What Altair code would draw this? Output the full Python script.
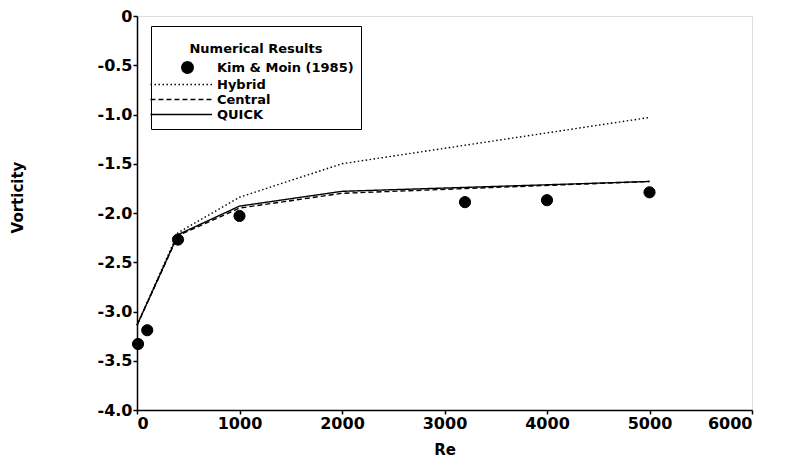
import altair as alt
import pandas as pd

# ---- data ----
series_names = ["Kim & Moin (1985)", "Hybrid", "Central", "QUICK"]

kim_re = [10, 100, 400, 1000, 3200, 4000, 5000]
kim_vort = [-3.33, -3.19, -2.27, -2.03, -1.89, -1.87, -1.79]

line_re = [0, 400, 1000, 2000, 5000]
hybrid_vort = [-3.14, -2.20, -1.84, -1.50, -1.03]
central_vort = [-3.14, -2.23, -1.95, -1.80, -1.68]
quick_vort = [-3.14, -2.22, -1.93, -1.78, -1.68]

x_ticks = [0, 1000, 2000, 3000, 4000, 5000, 6000]
y_ticks = [-4.0, -3.5, -3.0, -2.5, -2.0, -1.5, -1.0, -0.5, 0.0]

# ---- tables ----
pts = pd.DataFrame({"Re": kim_re, "Vorticity": kim_vort, "series": series_names[0]})
rows = []
for name, vals in [("Hybrid", hybrid_vort), ("Central", central_vort), ("QUICK", quick_vort)]:
    for r, v in zip(line_re, vals):
        rows.append({"Re": r, "Vorticity": v, "series": name})
lines = pd.DataFrame(rows)

FONT = "DejaVu Sans"
line_path = "M-6.5,0H4.3"

legend = alt.Legend(
    title=["", "Numerical Results"],
    orient="none",
    legendX=14,
    legendY=10,
    padding=7,
    strokeColor="black",
    titleFont=FONT,
    titleFontSize=13,
    titleFontWeight="bold",
    titleColor="black",
    titleAnchor="middle",
    titleLineHeight=10,
    titlePadding=5,
    labelFont=FONT,
    labelFontSize=13,
    labelFontWeight="bold",
    labelColor="black",
    symbolSize=130,
    symbolOffset=23,
    labelOffset=23,
    symbolStrokeWidth=1.4,
    symbolOpacity=1,
    rowPadding=1,
)

domain_scale = dict(domain=series_names)

x_enc = alt.X(
    "Re:Q",
    scale=alt.Scale(domain=[0, 6000], nice=False),
    axis=alt.Axis(
        title="Re", values=x_ticks, format="d", grid=False,
        labelFont=FONT, labelFontSize=16, labelFontWeight="bold", labelColor="black",
        labelPadding=1, tickSize=4, tickColor="black", tickWidth=1.5,
        domainColor="black", domainWidth=1.5,
        titleFont=FONT, titleFontSize=15, titleFontWeight="bold", titleColor="black",
        titlePadding=11,
    ),
)
y_enc = alt.Y(
    "Vorticity:Q",
    scale=alt.Scale(domain=[-4, 0], nice=False),
    axis=alt.Axis(
        title="Vorticity", values=y_ticks, grid=False,
        labelExpr="datum.value == 0 ? '0' : (datum.value < 0 ? '-' : '') + format(abs(datum.value), '.1f')",
        labelFont=FONT, labelFontSize=16, labelFontWeight="bold", labelColor="black",
        labelPadding=1, tickSize=4, tickColor="black", tickWidth=1.5,
        domainColor="black", domainWidth=1.5,
        titleFont=FONT, titleFontSize=15, titleFontWeight="bold", titleColor="black",
        titleX=-120, titleY=181, titleBaseline="middle", titleAlign="center", titleAngle=270,
    ),
)

line_layer = alt.Chart(lines).mark_line(color="black", strokeWidth=1.4).encode(
    x=x_enc,
    y=y_enc,
    strokeDash=alt.StrokeDash(
        "series:N",
        scale=alt.Scale(range=[[1, 0], [1.5, 2.5], [5, 3], [1, 0]], **domain_scale),
        legend=legend,
    ),
    order="Re:Q",
)

point_layer = alt.Chart(pts).mark_point(filled=True, size=125, opacity=1, strokeWidth=1).encode(
    x=x_enc,
    y=y_enc,
    shape=alt.Shape(
        "series:N",
        scale=alt.Scale(range=["circle", line_path, line_path, line_path], **domain_scale),
        legend=legend,
    ),
    fill=alt.Fill(
        "series:N",
        scale=alt.Scale(range=["black", "transparent", "transparent", "transparent"], **domain_scale),
        legend=legend,
    ),
    stroke=alt.Stroke(
        "series:N",
        scale=alt.Scale(range=["black", "black", "black", "black"], **domain_scale),
        legend=legend,
    ),
)

chart = (
    alt.layer(line_layer, point_layer)
    .properties(width=615, height=394, padding={"left": 2, "top": 0, "right": 5, "bottom": 5})
    .configure_view(stroke="black", strokeWidth=1.5)
    .configure(background="white")
)

chart.save("out.html", embed_options={"renderer": "svg", "actions": False})
